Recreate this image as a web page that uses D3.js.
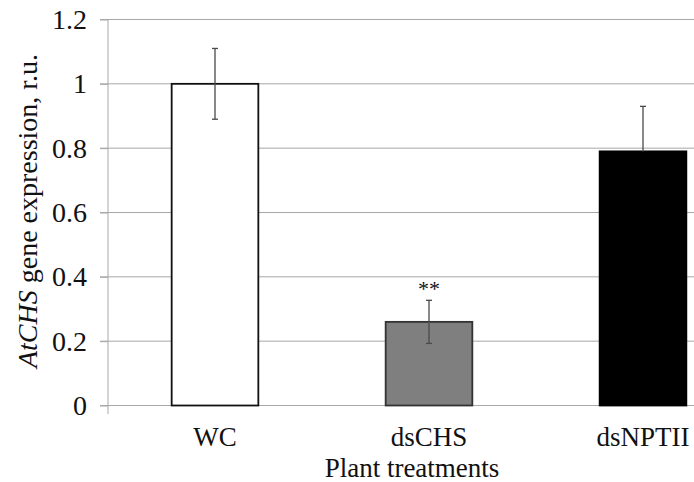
<!DOCTYPE html>
<html>
<head>
<meta charset="utf-8">
<script src="https://cdn.jsdelivr.net/npm/d3@7"></script>
<style>
  body { margin: 0; background: #fff; }
</style>
</head>
<body>
<svg id="chart" width="694" height="482"></svg>
<script>
// values
var categories = ["WC", "dsCHS", "dsNPTII"];
var expression = [1.0, 0.26, 0.79];
var errLow = [0.11, 0.067, 0];   // lower whisker of dsNPTII is not visible
var errHigh = [0.11, 0.067, 0.14];
var signif = ["", "**", ""];
var yTicks = [0, 0.2, 0.4, 0.6, 0.8, 1, 1.2];
var barFill = ["#ffffff", "#7f7f7f", "#000000"];
var barStroke = ["#111111", "#333333", "#000000"];

var serif = "Liberation Serif";
var svg = d3.select("#chart");

// the plot runs past the right edge of the picture, as in the original crop
var x = d3.scaleBand().domain(categories).range([108, 750]).paddingInner(0.595).paddingOuter(0.2975);
var y = d3.scaleLinear().domain([0, 1.2]).range([405.5, 19.5]);

//gridlines
svg.append("g").selectAll("line")
    .data(yTicks)
    .enter().append("line")
    .attr("x1", 100).attr("x2", 694)
    .attr("y1", d => y(d)).attr("y2", d => y(d))
    .attr("stroke", "#a8a8a8").attr("stroke-width", 1);

//y axis
var yAxis = d3.axisLeft(y).tickValues(yTicks).tickSize(8).tickPadding(13)
    .tickFormat(d => d3.format("")(+d.toFixed(1)));
var ga = svg.append("g").attr("transform", "translate(108,0)").call(yAxis)
    .attr("font-family", serif).attr("font-size", 28);
ga.select(".domain").remove();
ga.selectAll(".tick line").attr("stroke", "#a8a8a8");
ga.selectAll(".tick text").attr("fill", "#111");
svg.append("line").attr("x1", 108).attr("x2", 108).attr("y1", y(1.2)).attr("y2", 414)
    .attr("stroke", "#a8a8a8");

//bars
svg.append("g").selectAll("rect")
    .data(categories)
    .enter().append("rect")
    .attr("x", d => x(d))
    .attr("width", x.bandwidth())
    .attr("y", (d, i) => y(expression[i]))
    .attr("height", (d, i) => y(0) - y(expression[i]))
    .attr("fill", (d, i) => barFill[i])
    .attr("stroke", (d, i) => barStroke[i])
    .attr("stroke-width", 1.8);

//error bars
var eb = svg.append("g").attr("stroke", "#4a4a4a").attr("stroke-width", 1.3);
categories.forEach(function (c, i) {
    var cx = x(c) + x.bandwidth() / 2,
        top = y(expression[i] + errHigh[i]),
        bot = y(expression[i] - errLow[i]);
    eb.append("line").attr("x1", cx).attr("x2", cx).attr("y1", top).attr("y2", bot);
    eb.append("line").attr("x1", cx - 3).attr("x2", cx + 3).attr("y1", top).attr("y2", top);
    if (errLow[i] > 0)
        eb.append("line").attr("x1", cx - 3).attr("x2", cx + 3).attr("y1", bot).attr("y2", bot);
});

//significance marks
svg.append("g").selectAll("text")
    .data(categories)
    .enter().append("text")
    .attr("x", d => x(d) + x.bandwidth() / 2)
    .attr("y", (d, i) => y(expression[i] + errHigh[i]) - 4)
    .attr("text-anchor", "middle")
    .attr("font-family", serif)
    .attr("font-size", 22)
    .attr("fill", "#111")
    .text((d, i) => signif[i]);

//category labels
svg.append("g").selectAll("text")
    .data(categories)
    .enter().append("text")
    .attr("x", d => x(d) + x.bandwidth() / 2)
    .attr("y", 446)
    .attr("text-anchor", "middle")
    .attr("font-family", serif)
    .attr("font-size", 27)
    .attr("fill", "#111")
    .text(d => d);

svg.append("text")
    .attr("x", 412).attr("y", 477)
    .attr("text-anchor", "middle")
    .attr("font-family", serif)
    .attr("font-size", 27)
    .attr("fill", "#111")
    .text("Plant treatments");

var yl = svg.append("text")
    .attr("transform", "translate(37,211) rotate(-90)")
    .attr("text-anchor", "middle")
    .attr("font-family", serif)
    .attr("font-size", 28)
    .attr("fill", "#111");
yl.append("tspan").attr("font-style", "italic").text("AtCHS");
yl.append("tspan").text(" gene expression, r.u.");
</script>
</body>
</html>
